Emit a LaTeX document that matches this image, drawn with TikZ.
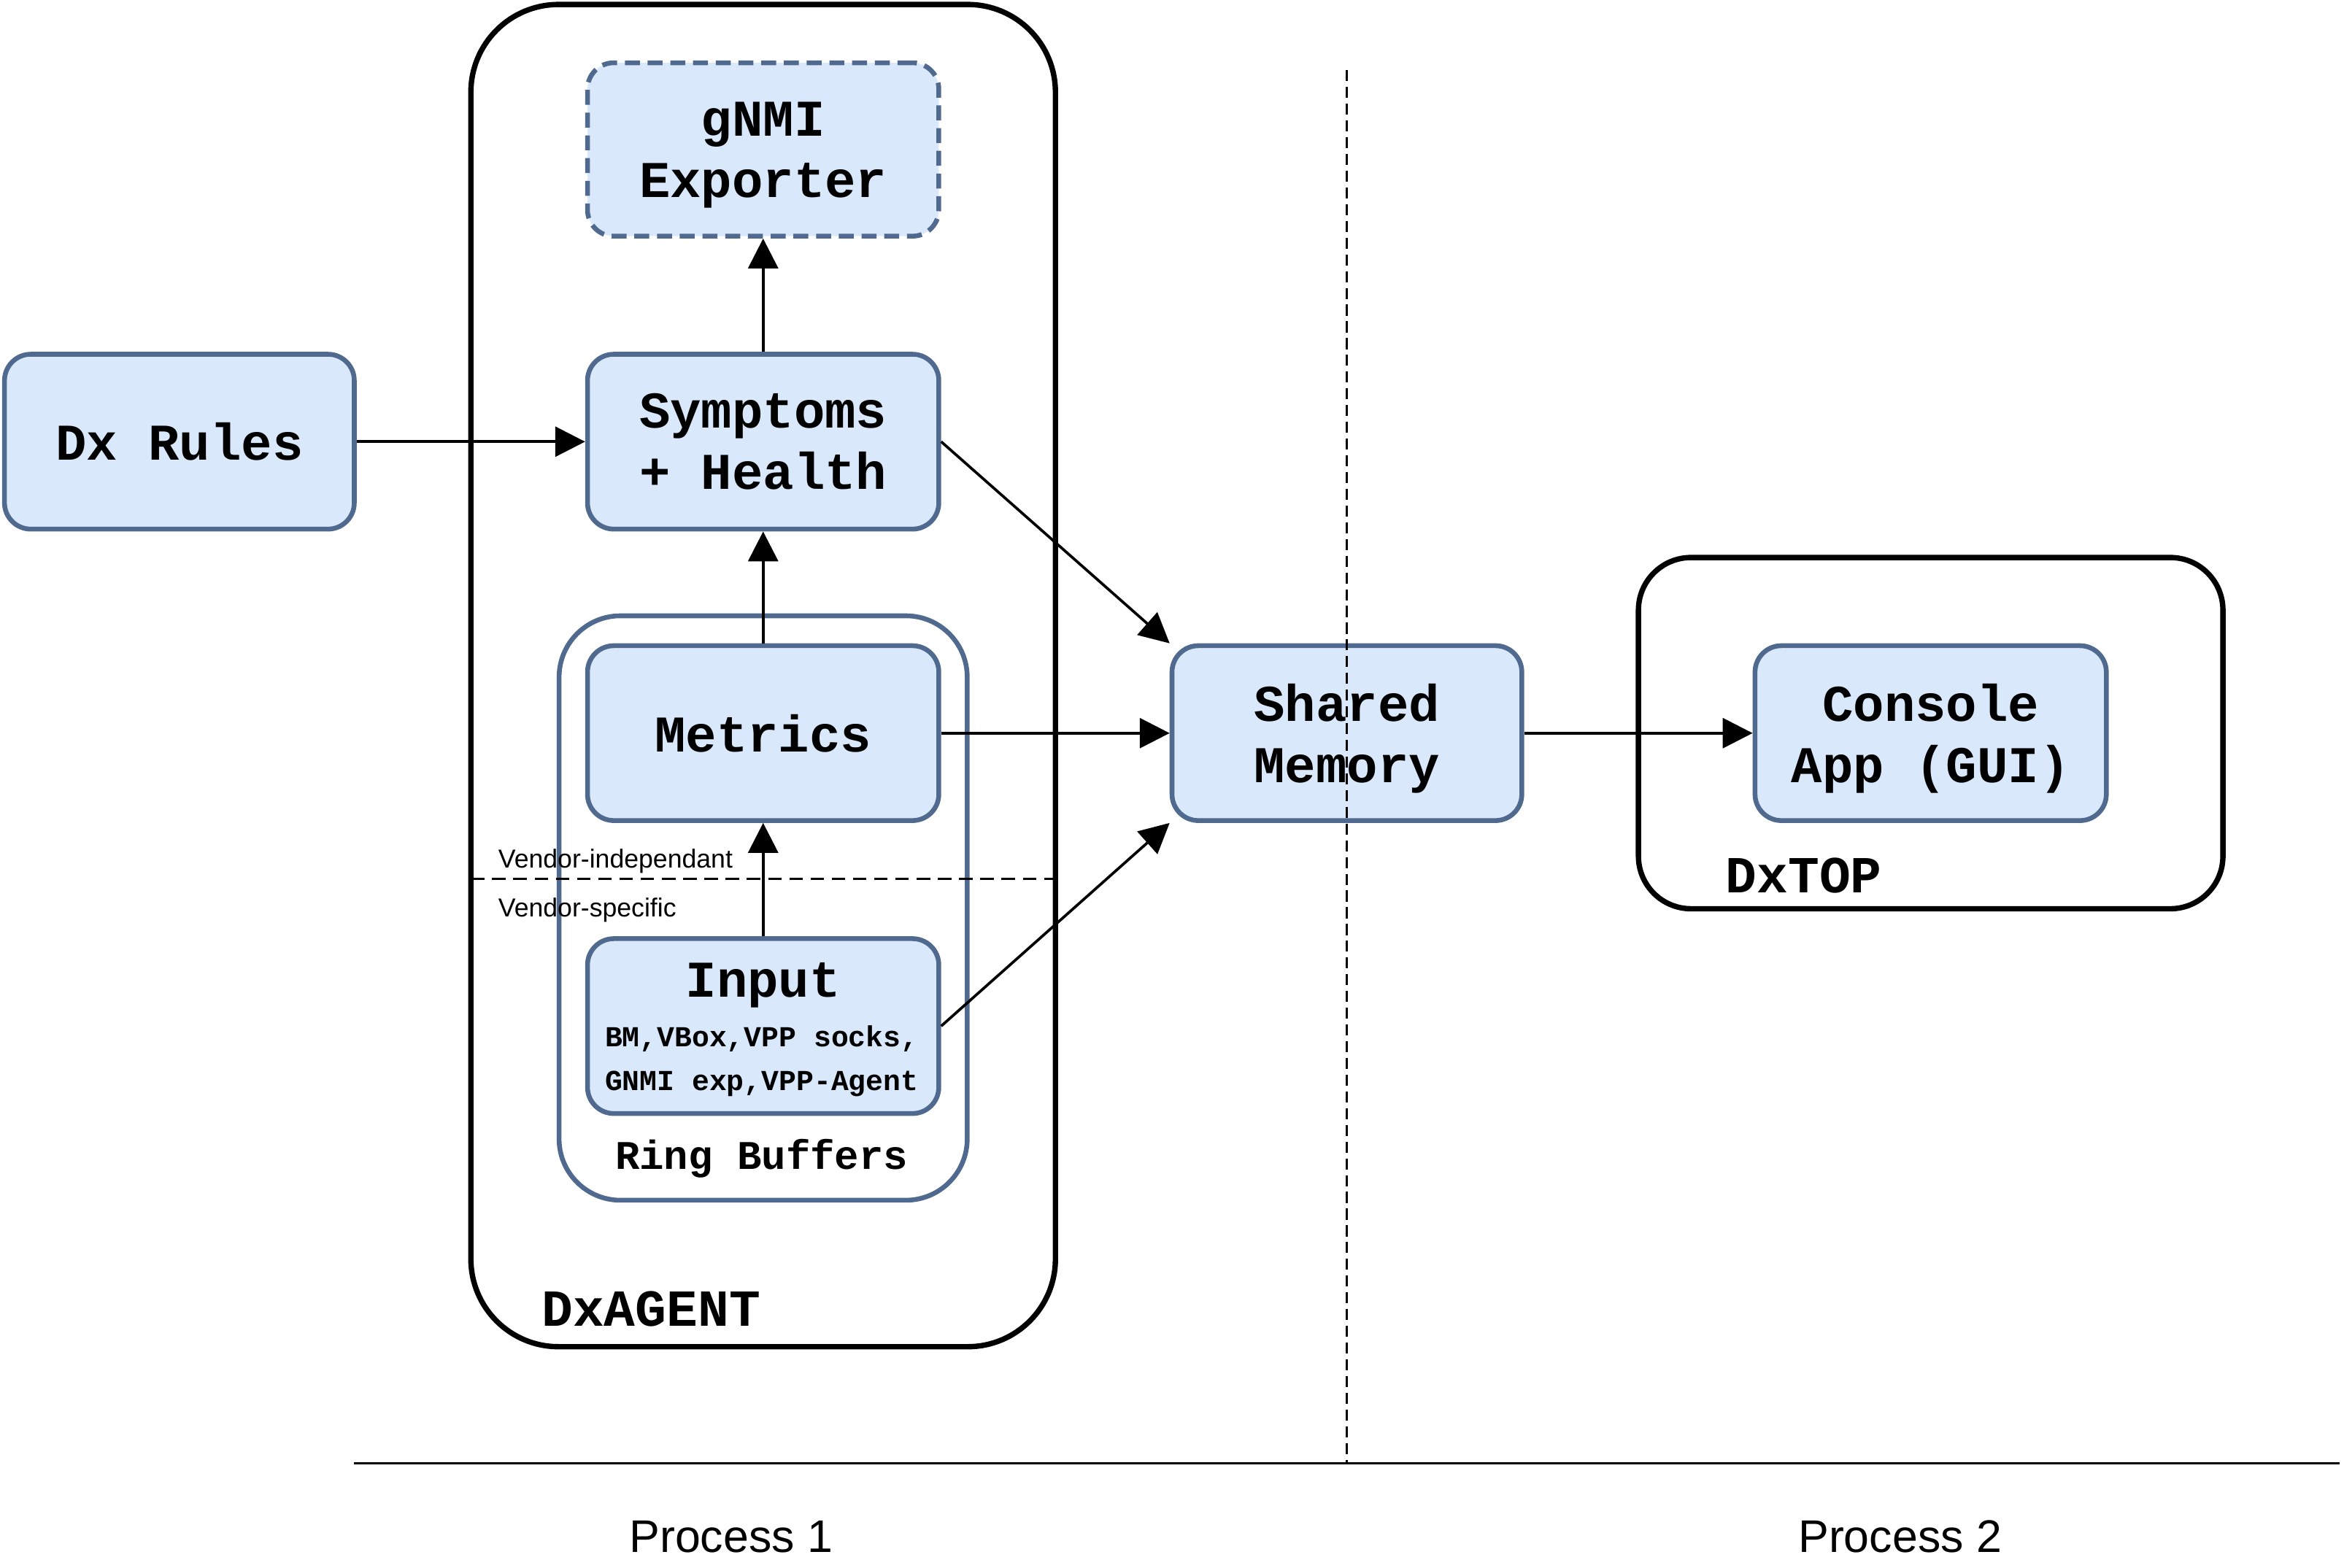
\documentclass[tikz,border=0pt]{standalone}
\usepackage{fontspec}
\setmainfont{Liberation Sans}
\newfontfamily\mono{Liberation Mono}
\usetikzlibrary{arrows.meta}
\definecolor{bfill}{HTML}{DAE8FC}
\definecolor{bstroke}{HTML}{506A8F}
\tikzset{
  box/.style={draw=bstroke, fill=bfill, line width=1.6pt, rounded corners=8.8pt,
    minimum width=117.5pt, minimum height=58.5pt, inner sep=0pt, align=center,
    font=\mono\bfseries\fontsize{17.25pt}{20.5pt}\selectfont},
  cont/.style={draw=black, line width=1.8pt, inner sep=0pt},
  arr/.style={-{Triangle[length=10pt,width=10pt]}, line width=0.9pt},
  lbl/.style={inner sep=0pt, font=\mono\bfseries\fontsize{17.4pt}{20pt}\selectfont},
  vend/.style={inner sep=0pt, anchor=west, font=\fontsize{8.7pt}{10pt}\selectfont},
  proc/.style={inner sep=0pt, font=\fontsize{15.3pt}{18pt}\selectfont},
}
\begin{document}
\begin{tikzpicture}[x=0.5pt,y=-0.5pt]
\useasboundingbox (0,0) rectangle (1568,1048.6);
% containers
\node[cont, rounded corners=29.3pt, minimum width=195.5pt, minimum height=449pt] (agent) at (510.5,452) {};
\node[draw=bstroke, line width=1.6pt, inner sep=0pt, rounded corners=20.5pt, minimum width=136.5pt, minimum height=195.5pt] (ring) at (510.5,607.5) {};
\node[cont, rounded corners=17.6pt, minimum width=195.5pt, minimum height=117.5pt] (top) at (1291.5,490.5) {};
% boxes
\node[box, dashed, dash pattern=on 5pt off 2.6pt, minimum height=58pt] (gnmi) at (510.5,100) {gNMI\\\smash{Exporter}};
\node[box] (sym) at (510.5,295.5) {Symptoms\\+ Health};
\node[box, minimum width=117pt] (dx) at (120,295.5) {Dx Rules};
\node[box] (met) at (510.5,490.5) {Metrics};
\node[box] (inp) at (510.5,686.5) {};
\node[lbl, font=\mono\bfseries\fontsize{17.25pt}{20pt}\selectfont] (inptitle) at (510.5,659) {Input};
\node[inner sep=0pt, font=\mono\bfseries\fontsize{9.7pt}{14.5pt}\selectfont, align=center] (inpsub) at (509.5,710) {BM,VBox,VPP socks,\\GNMI exp,VPP-Agent};
\node[box, minimum width=117pt] (shm) at (901,490.5) {Shared\\\smash{Memory}};
\node[box] (con) at (1291.5,490.5) {Console\\\smash{App (GUI)}};
% labels
\node[lbl, font=\mono\bfseries\fontsize{13.6pt}{16pt}\selectfont] (ringlbl) at (509.5,775) {Ring Buffers};
\node[lbl, anchor=west] (agentlbl) at (362,876) {DxAGENT};
\node[lbl, anchor=west] (toplbl) at (1154,586) {DxTOP};
\node[vend] (vind) at (333,576) {Vendor-independant};
\node[vend] (vspec) at (333,609) {Vendor-specific};
\node[proc] (p1) at (489,1028) {Process 1};
\node[proc] (p2) at (1271,1028) {Process 2};
% separators
\coordinate (vl1) at (315,588);
\coordinate (vl2) at (706,588);
\draw[line width=0.8pt, dash pattern=on 4.5pt off 2.6pt] (vl1) -- (vl2);
\coordinate (pv1) at (901,47);
\coordinate (pv2) at (901,979);
\draw[line width=0.6pt, dash pattern=on 3.7pt off 1.9pt] (pv1) -- (pv2);
\coordinate (ph1) at (237,979);
\coordinate (ph2) at (1565,979);
\draw[line width=0.9pt] (ph1) -- (ph2);
% arrows
\draw[arr] (dx.east) -- (sym.west);
\draw[arr] (sym.north) -- (gnmi.south);
\draw[arr] (met.north) -- (sym.south);
\draw[arr] (inp.north) -- (met.south);
\draw[arr] (sym.east) -- (shm.north west);
\draw[arr] (met.east) -- (shm.west);
\draw[arr] (inp.east) -- (shm.south west);
\draw[arr] (shm.east) -- (con.west);
\end{tikzpicture}
\end{document}
